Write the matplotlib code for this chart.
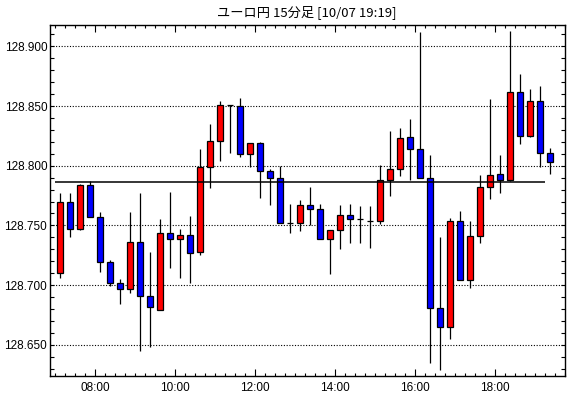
# coding: utf-8
import numpy as np
import pandas as pd
import matplotlib
matplotlib.use('Agg')
import matplotlib.pyplot as plt
from matplotlib.ticker import MultipleLocator, FuncFormatter

# 15-minute candles, 07:00 .. 19:15
times = pd.date_range('2019-10-07 07:00', periods=50, freq='15min')

opens = [128.710, 128.770, 128.747, 128.784, 128.757, 128.719, 128.702, 128.697, 128.736, 128.691,
         128.679, 128.744, 128.739, 128.742, 128.728, 128.799, 128.821, 128.851, 128.850, 128.810,
         128.819, 128.796, 128.790, 128.752, 128.752, 128.767, 128.764, 128.739, 128.746, 128.759,
         128.755, 128.754, 128.754, 128.788, 128.797, 128.824, 128.814, 128.790, 128.681, 128.665,
         128.754, 128.704, 128.741, 128.782, 128.793, 128.788, 128.862, 128.825, 128.854, 128.811]
highs = [128.777, 128.777, 128.785, 128.787, 128.761, 128.721, 128.705, 128.761, 128.777, 128.728,
         128.755, 128.778, 128.747, 128.758, 128.814, 128.835, 128.854, 128.851, 128.857, 128.819,
         128.820, 128.797, 128.800, 128.768, 128.771, 128.782, 128.768, 128.746, 128.767, 128.768,
         128.766, 128.766, 128.801, 128.829, 128.832, 128.839, 128.912, 128.809, 128.740, 128.756,
         128.762, 128.754, 128.792, 128.856, 128.809, 128.913, 128.877, 128.864, 128.867, 128.815]
lows = [128.706, 128.740, 128.746, 128.757, 128.711, 128.699, 128.684, 128.693, 128.645, 128.648,
        128.679, 128.714, 128.706, 128.702, 128.725, 128.781, 128.804, 128.811, 128.807, 128.799,
        128.773, 128.767, 128.752, 128.744, 128.745, 128.750, 128.739, 128.709, 128.730, 128.735,
        128.735, 128.731, 128.751, 128.775, 128.791, 128.788, 128.790, 128.635, 128.629, 128.655,
        128.704, 128.698, 128.735, 128.772, 128.777, 128.787, 128.818, 128.824, 128.799, 128.793]
closes = [128.770, 128.747, 128.784, 128.757, 128.719, 128.702, 128.697, 128.736, 128.691, 128.682,
          128.744, 128.739, 128.742, 128.727, 128.799, 128.821, 128.851, 128.851, 128.810, 128.819,
          128.796, 128.790, 128.752, 128.752, 128.767, 128.764, 128.739, 128.746, 128.759, 128.755,
          128.755, 128.754, 128.788, 128.797, 128.823, 128.814, 128.790, 128.681, 128.665, 128.754,
          128.704, 128.741, 128.782, 128.792, 128.788, 128.862, 128.825, 128.854, 128.811, 128.803]

ref_level = 128.786   # horizontal reference line
title = 'ユーロ円 15分足 [10/07 19:19]'


def hours(t):
    return t.hour + t.minute / 60.0


fig = plt.figure(figsize=(5.7, 3.98), dpi=100)
ax = fig.add_axes([50 / 570, 22.5 / 398, 515 / 570, 351 / 398])

x = np.array([hours(t) for t in times]) + 0.125
o = np.array(opens)
c = np.array(closes)
colors = np.where(c >= o, '#ff0000', '#0000ff')

ax.vlines(x, lows, highs, color='black', lw=0.9, zorder=2)
ax.bar(x, np.abs(c - o), bottom=np.minimum(o, c), width=0.15, color=colors,
       edgecolor='black', lw=0.9, zorder=3)
ax.hlines(ref_level, x[0] - 0.125, x[-1] - 0.125, color='black', lw=1.1, zorder=4)

ax.set_xlim(6.875, 19.75)
ax.set_ylim(128.6243, 128.9183)

ax.xaxis.set_major_locator(MultipleLocator(2))
ax.xaxis.set_minor_locator(MultipleLocator(0.25))
ax.xaxis.set_major_formatter(FuncFormatter(lambda v, p: '%02d:00' % int(round(v))))
ax.yaxis.set_major_locator(MultipleLocator(0.05))
ax.yaxis.set_minor_locator(MultipleLocator(0.01))
ax.yaxis.set_major_formatter(FuncFormatter(lambda v, p: '%.3f' % v))

ax.tick_params(which='both', direction='in', top=True, right=True, width=0.8,
               labelsize=8.5, colors='black')
ax.tick_params(axis='x', which='major', length=5, pad=5)
ax.tick_params(axis='x', which='minor', length=2.5)
ax.tick_params(axis='y', which='both', length=2.8, pad=2)
for lab in ax.get_xticklabels() + ax.get_yticklabels():
    lab.set_family('Liberation Sans')

ax.grid(axis='y', which='major', color='black', linestyle=(0, (1, 1.5)), lw=0.8)
ax.set_axisbelow(True)
for s in ax.spines.values():
    s.set_linewidth(1.0)

fig.text(307 / 570, 1 - 12 / 398, title, ha='center', va='center', fontsize=9.5,
         family=['Noto Sans CJK JP', 'DejaVu Sans'])

fig.savefig('out.png', dpi=100)
